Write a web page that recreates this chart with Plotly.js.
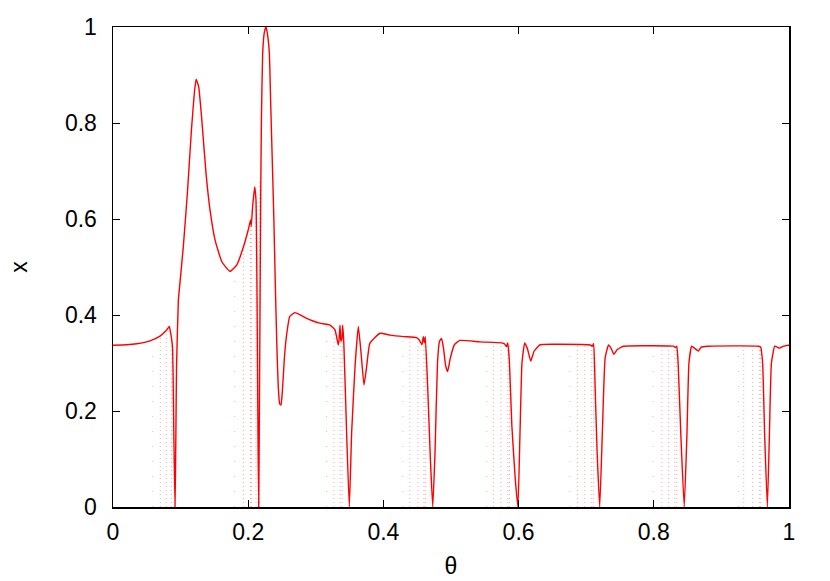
<!DOCTYPE html>
<html>
<head>
<meta charset="utf-8">
<script src="https://cdn.plot.ly/plotly-3.0.1.min.js"></script>
<style>
  body { margin: 0; background: #fff; }
  #plot { width: 830px; height: 581px; }
</style>
</head>
<body>
<div id="plot"></div>
<script>
// main branch of x(theta)
let theta = [0, 0.02, 0.035, 0.0547, 0.0695, 0.0784, 0.081, 0.0833, 0.085, 0.088, 0.09, 0.0917,
  0.093, 0.094, 0.0967, 0.099, 0.104, 0.110, 0.116, 0.1205, 0.123, 0.1267, 0.131, 0.1376, 0.1435,
  0.151, 0.161, 0.173, 0.183, 0.193, 0.200, 0.2035, 0.2045, 0.2065, 0.2096, 0.2115, 0.213, 0.2145,
  0.2155, 0.217, 0.2185, 0.2195, 0.2214, 0.224, 0.2263, 0.2285, 0.2313, 0.2333, 0.236, 0.238,
  0.240, 0.2425, 0.2445, 0.2465, 0.2485, 0.2505, 0.2535, 0.2565, 0.2615, 0.269, 0.276, 0.285,
  0.295, 0.306, 0.321, 0.3284,
  0.3333, 0.3345, 0.3358, 0.337, 0.3385, 0.3398, 0.3415, 0.3456, 0.3496, 0.353, 0.358, 0.3629,
  0.367, 0.3713, 0.375, 0.38, 0.395, 0.41, 0.43, 0.449, 0.453, 0.457, 0.459, 0.4605, 0.462,
  0.4655, 0.4695, 0.473, 0.4765, 0.48, 0.483, 0.486, 0.489, 0.492, 0.495, 0.499, 0.505, 0.513,
  0.543, 0.575, 0.579, 0.582, 0.584, 0.5865, 0.59, 0.595, 0.599, 0.602, 0.605, 0.609, 0.613,
  0.618, 0.623, 0.632, 0.66, 0.706, 0.709, 0.711, 0.713, 0.716, 0.72, 0.724, 0.728, 0.733,
  0.737, 0.741, 0.746, 0.755, 0.8, 0.829, 0.832, 0.834, 0.836, 0.84, 0.845, 0.849, 0.852,
  0.856, 0.861, 0.866, 0.87, 0.88, 0.955, 0.958, 0.961, 0.964, 0.968, 0.971, 0.974, 0.979,
  0.986, 0.992, 1.0];
let xval = [0.337, 0.338, 0.340, 0.346, 0.356, 0.367, 0.372, 0.376, 0.365, 0.334, 0.15, 0,
  0.15, 0.292, 0.431, 0.466, 0.542, 0.653, 0.785, 0.865, 0.891, 0.876, 0.813, 0.695, 0.619,
  0.556, 0.511, 0.491, 0.504, 0.542, 0.577, 0.598, 0.585, 0.625, 0.667, 0.640, 0.45, 0.15,
  0, 0.30, 0.65, 0.80, 0.945, 0.99, 1.0, 0.985, 0.945, 0.84, 0.702, 0.598,
  0.47, 0.33, 0.25, 0.215, 0.2125, 0.24, 0.31, 0.355, 0.397, 0.405, 0.401, 0.394,
  0.388, 0.383, 0.379, 0.369,
  0.3375, 0.350, 0.379, 0.345, 0.350, 0.379, 0.34, 0.154, 0, 0.154, 0.292, 0.376,
  0.32, 0.254, 0.29, 0.341, 0.362, 0.358, 0.355, 0.353, 0.348, 0.338, 0.355, 0.342, 0.355,
  0.25, 0.10, 0, 0.12, 0.30, 0.345, 0.351, 0.33, 0.295, 0.282, 0.31, 0.338, 0.347,
  0.344, 0.342, 0.340, 0.334, 0.342, 0.30, 0.17, 0.06, 0, 0.15, 0.30, 0.342, 0.33,
  0.304, 0.325, 0.338, 0.339, 0.3375, 0.335, 0.340, 0.26, 0.12, 0, 0.16, 0.31, 0.3375,
  0.33, 0.318, 0.328, 0.335, 0.336, 0.335, 0.332, 0.335, 0.30, 0.15, 0, 0.15, 0.30,
  0.335, 0.33, 0.325, 0.333, 0.335, 0.335, 0.333, 0.30, 0.15, 0, 0.15, 0.30, 0.335,
  0.331, 0.335, 0.337];

// faint columns of scattered points (dense ones and sparse ones)
let denseTheta = [0.070, 0.079, 0.0865, 0.193, 0.2035, 0.205, 0.2115, 0.2165, 0.327, 0.336, 0.339,
  0.439, 0.451, 0.460, 0.4625, 0.563, 0.574, 0.584, 0.5865, 0.687, 0.698, 0.708, 0.711,
  0.812, 0.822, 0.831, 0.834, 0.933, 0.946, 0.956, 0.958];
let denseTop = [0.356, 0.367, 0.35, 0.54, 0.598, 0.59, 0.64, 0.68, 0.372, 0.379, 0.379,
  0.356, 0.352, 0.355, 0.355, 0.343, 0.342, 0.342, 0.34, 0.338, 0.338, 0.336, 0.34,
  0.336, 0.336, 0.335, 0.335, 0.335, 0.335, 0.335, 0.335];
let sparseTheta = [0.0587, 0.180, 0.316, 0.429, 0.553, 0.676, 0.799, 0.925];
let sparseTop = [0.33, 0.49, 0.38, 0.355, 0.343, 0.338, 0.336, 0.335];

function columns(ts, tops) {
  let xs = [], ys = [];
  for (let i = 0; i < ts.length; i++) {
    xs.push(ts[i], ts[i], null);
    ys.push(0, tops[i], null);
  }
  return {x: xs, y: ys};
}

let dense = columns(denseTheta, denseTop);
let sparse = columns(sparseTheta, sparseTop);

let traceDense = {
  x: dense.x, y: dense.y, mode: "lines", type: "scatter",
  line: {color: "rgba(255,0,0,0.35)", width: 1, dash: "1px,3px"},
  hoverinfo: "skip"
};
let traceSparse = {
  x: sparse.x, y: sparse.y, mode: "lines", type: "scatter",
  line: {color: "rgba(255,0,0,0.3)", width: 1, dash: "1px,14px"},
  hoverinfo: "skip"
};
let traceMain = {
  x: theta, y: xval, mode: "lines", type: "scatter",
  line: {color: "#ff0000", width: 1.4, shape: "spline", smoothing: 0.4}
};

var data = [traceSparse, traceDense, traceMain];

function axisStyle() {
  return {
    range: [0, 1], dtick: 0.2, ticks: "inside", ticklen: 7, tickwidth: 1, tickcolor: "#000",
    showline: true, linecolor: "#000", linewidth: 1.5, mirror: "allticks",
    showgrid: false, zeroline: false, fixedrange: true,
    tickfont: {family: "Liberation Sans", size: 23, color: "#000"}
  };
}

var layout = {
  width: 830, height: 581,
  margin: {l: 113, r: 41, t: 27, b: 74},
  paper_bgcolor: "#fff", plot_bgcolor: "#fff",
  showlegend: false,
  font: {family: "Liberation Sans", size: 22, color: "#000"},
  xaxis: Object.assign(axisStyle(), {
    ticklabelstandoff: 4,
    title: {text: "θ", standoff: 14, font: {family: "Liberation Sans", size: 23, color: "#000"}}
  }),
  yaxis: Object.assign(axisStyle(), {
    ticklabelstandoff: 10,
    title: {text: "x", standoff: 31, font: {family: "Liberation Sans", size: 23, color: "#000"}}
  })
};

Plotly.newPlot("plot", data, layout, {staticPlot: true});
</script>
</body>
</html>
